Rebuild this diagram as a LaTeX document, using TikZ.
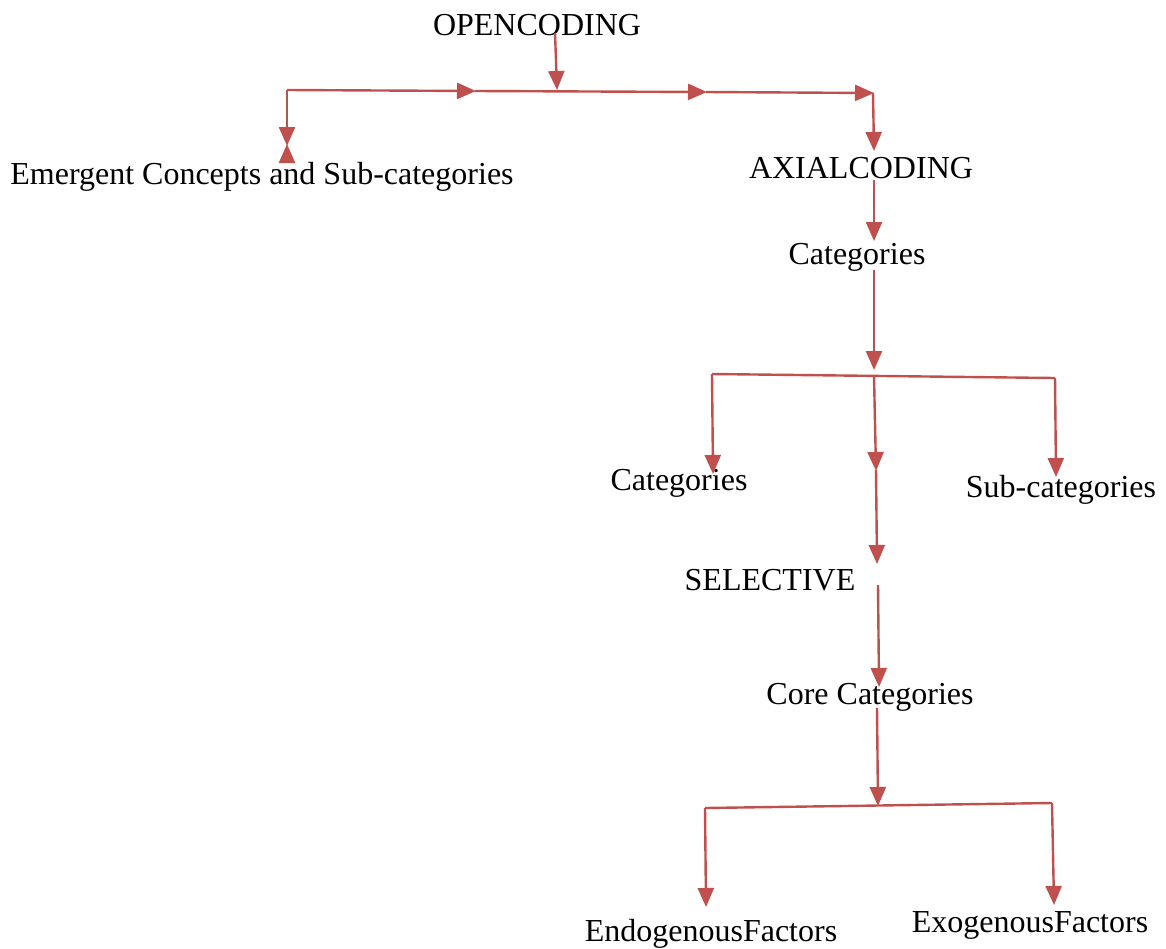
\documentclass[tikz,border=0pt]{standalone}
\usepackage{fontspec}
\setmainfont{Liberation Serif}
\usetikzlibrary{arrows.meta}
\definecolor{arrred}{HTML}{C0504D}
\begin{document}
\begin{tikzpicture}[x=1pt,y=-1pt,
  lbl/.style={inner sep=0pt,font=\fontsize{32}{38}\selectfont,text=black},
  con/.style={draw=arrred,line width=2.4pt},
  arr/.style={con,-{Triangle[width=16pt,length=19pt]},shorten >=-1pt}]
\useasboundingbox (0,0) rectangle (1166,948);
% labels
\node[lbl] (open) at (537,25) {OPENCODING};
\node[lbl] (emer) at (262,177) {Emergent Concepts and Sub-categories};
\node[lbl] (axial) at (861,168) {AXIALCODING};
\node[lbl] (cat1) at (857,257) {Categories};
\node[lbl] (cat2) at (679,483) {Categories};
\node[lbl] (sub) at (1061,490) {Sub-categories};
\node[lbl] (sel) at (770,580) {SELECTIVE};
\node[lbl] (core) at (870,697) {Core Categories};
\node[lbl] (endo) at (711,934) {EndogenousFactors};
\node[lbl] (exo) at (1030,925) {ExogenousFactors};
% coordinates
\coordinate (o1) at (555,33);
\coordinate (o2) at (557,89);
\coordinate (hl) at (287,90);
\coordinate (h1) at (475,91);
\coordinate (h2) at (706,92);
\coordinate (hr) at (873,93);
\coordinate (lt) at (287,145);
\coordinate (lb) at (287,162);
\coordinate (ax) at (874,150);
\coordinate (ax1) at (874,180);
\coordinate (ax2) at (874,240);
\coordinate (c1a) at (874,270);
\coordinate (c1b) at (874,369);
\coordinate (bl) at (712,374);
\coordinate (bm) at (874,376);
\coordinate (br) at (1055,378);
\coordinate (bld) at (713,473);
\coordinate (brd) at (1056,476);
\coordinate (bm1) at (876,470);
\coordinate (bm2) at (877,563);
\coordinate (s1) at (878,585);
\coordinate (s2) at (879,686);
\coordinate (k1) at (877,708);
\coordinate (k2) at (878,805);
\coordinate (el) at (705,808);
\coordinate (er) at (1052,803);
\coordinate (eld) at (706,906);
\coordinate (erd) at (1054,904);
% connectors
\draw[arr] (o1) -- (o2);
\draw[arr] (hl) -- (h1);
\draw[arr] (h1) -- (h2);
\draw[arr] (h2) -- (hr);
\draw[arr] (hl) -- (lt);
\draw[arr] (lb) -- (lt);
\draw[arr] (hr) -- (ax);
\draw[arr] (ax1) -- (ax2);
\draw[arr] (c1a) -- (c1b);
\draw[con] (bl) -- (br);
\draw[arr] (bl) -- (bld);
\draw[arr] (br) -- (brd);
\draw[arr] (bm) -- (bm1);
\draw[arr] (bm1) -- (bm2);
\draw[arr] (s1) -- (s2);
\draw[arr] (k1) -- (k2);
\draw[con] (el) -- (er);
\draw[arr] (el) -- (eld);
\draw[arr] (er) -- (erd);
\end{tikzpicture}
\end{document}
